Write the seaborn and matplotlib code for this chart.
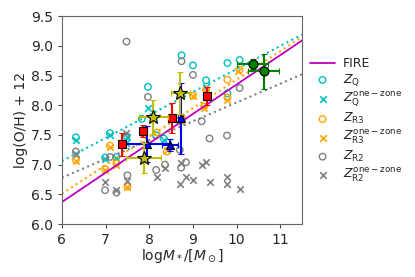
import matplotlib
matplotlib.use("Agg")
import matplotlib.pyplot as plt
import seaborn as sns
import numpy as np
import pandas as pd

# ---- data ----
fit_x = [6.0, 11.5]
fire_y = [6.37, 9.09]
fitQ_y = [7.06, 9.19]
fitR3_y = [6.51, 9.15]
fitR2_y = [6.78, 8.52]

zq_x = [6.32, 6.99, 7.10, 7.25, 7.48, 7.83, 7.97, 8.15, 8.33, 8.74, 9.00, 9.30, 9.79, 9.79, 10.07]
zq_y = [7.46, 7.12, 7.53, 7.13, 7.48, 7.77, 8.31, 7.50, 7.44, 8.84, 8.67, 8.42, 8.71, 8.20, 8.76]

zq1_x = [6.32, 6.99, 7.10, 7.25, 7.48, 7.50, 7.97, 8.33, 8.70, 9.30]
zq1_y = [7.42, 7.09, 7.50, 7.12, 7.36, 7.47, 7.95, 7.42, 7.75, 8.30]

zr3_x = [6.32, 6.99, 7.10, 7.25, 7.50, 7.86, 8.17, 8.40, 8.74, 9.00, 9.26, 9.30, 9.79, 9.79, 10.07]
zr3_y = [7.08, 6.93, 7.32, 7.02, 6.63, 7.56, 7.54, 7.22, 7.80, 8.16, 7.98, 8.26, 8.43, 8.13, 8.60]

zr31_x = [6.32, 6.99, 7.10, 7.25, 7.50, 7.86, 8.40, 8.74, 9.00, 9.26, 9.30, 9.79, 10.04]
zr31_y = [7.06, 6.91, 7.30, 7.00, 6.62, 7.54, 7.24, 7.72, 8.15, 7.96, 8.22, 8.09, 8.57]

zr2_x = [6.32, 6.99, 7.10, 7.25, 7.50, 7.48, 7.97, 8.16, 8.36, 8.70, 8.73, 8.74, 8.84, 9.00, 9.20, 9.38, 9.78, 10.07]
zr2_y = [7.22, 6.57, 7.13, 6.53, 6.82, 9.07, 8.14, 6.91, 7.00, 7.25, 6.95, 8.74, 7.04, 8.51, 7.73, 7.44, 7.49, 8.29]

zr21_x = [6.32, 6.99, 7.25, 7.50, 7.48, 7.90, 8.17, 8.36, 8.71, 8.73, 8.84, 9.00, 9.20, 9.30, 9.38, 9.78, 9.78, 10.07]
zr21_y = [7.18, 6.70, 6.58, 6.72, 7.53, 7.10, 6.80, 6.94, 6.67, 7.03, 6.80, 6.75, 7.00, 7.04, 6.71, 6.80, 6.67, 6.59]

red_x = [7.38, 7.86, 8.52, 9.32]
red_y = [7.34, 7.57, 7.78, 8.15]
red_yerr = [0.20, 0.10, 0.25, 0.15]

blue_x = [7.95, 8.48, 8.72]
blue_y = [7.35, 7.33, 7.78]
blue_xerr = [0.50, 0.18, 0.05]
blue_yerr = [0.30, 0.10, 0.60]

star_x = [8.09, 8.71, 7.88]
star_y = [7.80, 8.21, 7.11]
star_xerr = [0.33, 0.22, 0.40]
star_yerr = [0.28, 0.35, 0.25]

green_x = [10.37, 10.62]
green_y = [8.69, 8.57]
green_xerr = [0.35, 0.35]
green_yerr = [0.08, 0.30]

# ---- figure ----
sns.set_style("ticks")
plt.rcParams['font.family'] = ['DejaVu Sans']
plt.rcParams['mathtext.fontset'] = 'dejavusans'

fig = plt.figure(figsize=(4.15, 2.77), dpi=100)
ax = fig.add_axes([0.149, 0.191, 0.579, 0.751])

sns.lineplot(x=fit_x, y=fire_y, color='m', lw=1.3, ax=ax, label='FIRE')
sns.lineplot(x=fit_x, y=fitQ_y, color='c', lw=1.5, ls=':', ax=ax, legend=False)
sns.lineplot(x=fit_x, y=fitR3_y, color='orange', lw=1.5, ls=':', ax=ax, legend=False)
sns.lineplot(x=fit_x, y=fitR2_y, color='gray', lw=1.5, ls=':', ax=ax, legend=False)

ms = 22
sns.scatterplot(x=zq_x, y=zq_y, marker='o', facecolors='none', edgecolor='c', linewidth=1.0, s=ms, ax=ax, label=r'$Z_{\rm Q}$')
sns.scatterplot(x=zq1_x, y=zq1_y, marker='x', color='c', linewidth=1.2, s=ms, ax=ax, label=r'$Z_{\rm Q}^{\rm one-zone}$')
sns.scatterplot(x=zr3_x, y=zr3_y, marker='o', facecolors='none', edgecolor='orange', linewidth=1.0, s=ms, ax=ax, label=r'$Z_{\rm R3}$')
sns.scatterplot(x=zr31_x, y=zr31_y, marker='x', color='orange', linewidth=1.2, s=ms, ax=ax, label=r'$Z_{\rm R3}^{\rm one-zone}$')
sns.scatterplot(x=zr2_x, y=zr2_y, marker='o', facecolors='none', edgecolor='gray', linewidth=1.0, s=ms, ax=ax, label=r'$Z_{\rm R2}$')
sns.scatterplot(x=zr21_x, y=zr21_y, marker='x', color='gray', linewidth=1.2, s=ms, ax=ax, label=r'$Z_{\rm R2}^{\rm one-zone}$')

ax.errorbar(red_x, red_y, yerr=red_yerr, fmt='s', color='r', mec='k', mew=0.8, ms=5.5, capsize=2, elinewidth=1.5, zorder=5)
ax.errorbar(blue_x, blue_y, xerr=blue_xerr, yerr=blue_yerr, fmt='^', color='b', mec='k', mew=0.8, ms=5.5, capsize=2, elinewidth=1.5, zorder=5)
ax.errorbar(star_x, star_y, xerr=star_xerr, yerr=star_yerr, fmt='*', color='y', mec='k', mew=0.8, ms=10, capsize=2, elinewidth=1.5, zorder=6)
ax.errorbar(green_x, green_y, xerr=green_xerr, yerr=green_yerr, fmt='o', color='g', mec='k', mew=0.8, ms=6.5, capsize=2, elinewidth=1.5, zorder=6)

ax.set_xlim(6, 11.5)
ax.set_ylim(6.0, 9.5)
ax.set_xticks([6, 7, 8, 9, 10, 11])
ax.set_yticks([6.0, 6.5, 7.0, 7.5, 8.0, 8.5, 9.0, 9.5])
ax.tick_params(labelsize=10, length=3, color='0.3')
for s in ax.spines.values():
    s.set_color('0.4')
    s.set_visible(True)
ax.set_xlabel(r'log$M_*/[M_\odot]$', fontsize=10, labelpad=0)
ax.set_ylabel('log(O/H) + 12', fontsize=10, labelpad=2)

h, l = ax.get_legend_handles_labels()
ax.get_legend().remove()
fig.legend(h, l, loc='upper left', bbox_to_anchor=(0.735, 0.812), frameon=False, fontsize=9,
           labelspacing=0.2, handlelength=2.0, handletextpad=0.6, borderaxespad=0.0)

fig.savefig('out.png', dpi=100)
